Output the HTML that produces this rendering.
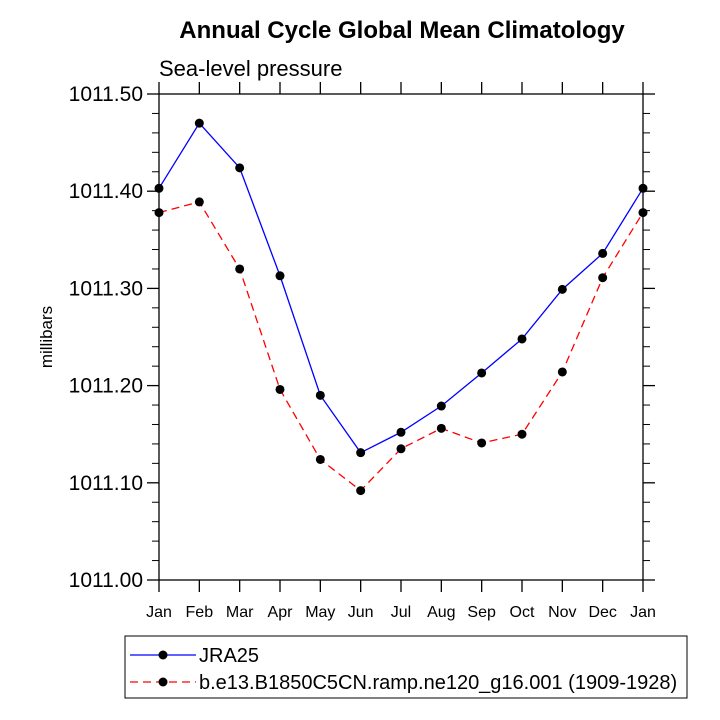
<!DOCTYPE html>
<html><head><meta charset="utf-8"><style>
body{margin:0;background:#fff}
svg{display:block;font-family:"Liberation Sans",Arial,sans-serif}
</style></head><body>
<svg id="chart" width="720" height="720">
<text x="402" y="38" text-anchor="middle" font-size="24" font-weight="bold">Annual Cycle Global Mean Climatology</text>
<text x="159" y="76" font-size="22">Sea-level pressure</text>
<text transform="translate(52,337) rotate(-90)" text-anchor="middle" font-size="17">millibars</text>
<g id="axes"></g>
<g id="series"></g>
<rect x="125" y="636" width="562" height="62" fill="none" stroke="#000" stroke-width="1"/>
<g>
<line x1="130" y1="655" x2="196" y2="655" stroke="#00f" stroke-width="1.3"/>
<circle cx="163" cy="655" r="4.5" fill="#000"/>
<text x="199" y="662" font-size="20">JRA25</text></g>
<g>
<line x1="130" y1="682" x2="196" y2="682" stroke="#f00" stroke-width="1.3" stroke-dasharray="8,5"/>
<circle cx="163" cy="682" r="4.5" fill="#000"/>
<text x="199" y="689" font-size="20">b.e13.B1850C5CN.ramp.ne120_g16.001 (1909-1928)</text></g>
</svg>
<script>
const months=["Jan","Feb","Mar","Apr","May","Jun","Jul","Aug","Sep","Oct","Nov","Dec","Jan"];
const jra25=[1011.403,1011.470,1011.424,1011.313,1011.190,1011.131,1011.152,1011.179,1011.213,1011.248,1011.299,1011.336,1011.403];
const model=[1011.378,1011.389,1011.320,1011.196,1011.124,1011.092,1011.135,1011.156,1011.141,1011.150,1011.214,1011.311,1011.378];
const yTicks=["1011.00","1011.10","1011.20","1011.30","1011.40","1011.50"];
const L=159,R=643,T=94,B=580,ymin=1011.0,ymax=1011.5;
const NS="http://www.w3.org/2000/svg";
const xs=i=>L+(R-L)*i/(months.length-1);
const ys=v=>B-(v-ymin)/(ymax-ymin)*(B-T);
function mk(tag,attrs,parent){const e=document.createElementNS(NS,tag);for(const k in attrs)e.setAttribute(k,attrs[k]);parent.appendChild(e);return e;}
const ax=document.getElementById('axes');
const frame=mk('rect',{x:L,y:T,width:R-L,height:B-T,fill:'none',stroke:'#000','stroke-width':1.3},ax);


months.forEach((m,i)=>{const x=xs(i);
mk('line',{x1:x,y1:B,x2:x,y2:B+12,stroke:'#000','stroke-width':1.3},ax);
mk('line',{x1:x,y1:T,x2:x,y2:T-12,stroke:'#000','stroke-width':1.3},ax);
const t=mk('text',{x:x,y:B+37,'text-anchor':'middle','font-size':16},ax);t.textContent=m;

});
yTicks.forEach((lab,i)=>{const v=parseFloat(lab),y=ys(v);
mk('line',{x1:L-12,y1:y,x2:L,y2:y,stroke:'#000','stroke-width':1.3},ax);
mk('line',{x1:R,y1:y,x2:R+12,y2:y,stroke:'#000','stroke-width':1.3},ax);
const t=mk('text',{x:L-16,y:y+7,'text-anchor':'end','font-size':21},ax);t.textContent=lab;


if(i<yTicks.length-1){for(let k=1;k<5;k++){const yy=ys(v+0.02*k);
mk('line',{x1:L-7,y1:yy,x2:L,y2:yy,stroke:'#000','stroke-width':1},ax);
mk('line',{x1:R,y1:yy,x2:R+7,y2:yy,stroke:'#000','stroke-width':1},ax);}}});
const sg=document.getElementById('series');
function draw(data,color,dash,name){
const g=mk('g',{},sg);


const pts=data.map((v,i)=>xs(i)+','+ys(v)).join(' ');
const pl=mk('polyline',{points:pts,fill:'none',stroke:color,'stroke-width':1.3},g);
if(dash)pl.setAttribute('stroke-dasharray',dash);
data.forEach((v,i)=>{const c=mk('circle',{cx:xs(i),cy:ys(v),r:4.5,fill:'#000'},g);

});}
draw(model,'#f00','8,5','model-series');
draw(jra25,'#00f',null,'jra25-series');
</script>
</body></html>
